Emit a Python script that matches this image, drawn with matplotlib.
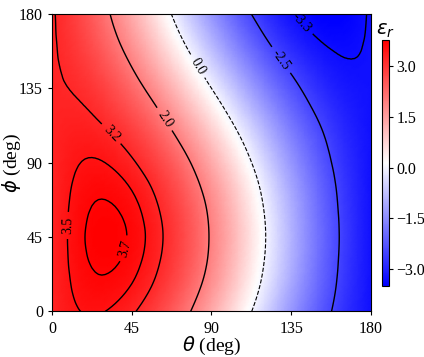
import numpy as np
import matplotlib.pyplot as plt
import matplotlib.tri as mtri

plt.rcParams['font.family'] = 'serif'
plt.rcParams['font.serif'] = ['Liberation Serif', 'DejaVu Serif']

# grid (deg)
theta = [0, 15, 30, 45, 60, 75, 90, 105, 120, 135, 150, 165, 180]
phi = [0, 15, 30, 45, 60, 75, 90, 105, 120, 135, 150, 165, 180]

# eps_r, one row per phi value, columns follow theta
eps_r = [
    [3.25, 3.49, 3.50, 3.26, 2.80, 2.16, 1.36, 0.47, -0.45, -1.34, -2.14, -2.79, -3.25],
    [3.25, 3.57, 3.65, 3.48, 3.07, 2.45, 1.67, 0.77, -0.18, -1.12, -1.98, -2.71, -3.25],
    [3.25, 3.62, 3.74, 3.61, 3.23, 2.64, 1.86, 0.95, -0.02, -0.98, -1.89, -2.66, -3.25],
    [3.25, 3.64, 3.78, 3.66, 3.29, 2.70, 1.92, 1.02, 0.04, -0.94, -1.85, -2.64, -3.25],
    [3.25, 3.62, 3.74, 3.61, 3.23, 2.64, 1.86, 0.95, -0.02, -0.98, -1.89, -2.66, -3.25],
    [3.25, 3.57, 3.65, 3.48, 3.07, 2.45, 1.67, 0.77, -0.18, -1.12, -1.98, -2.71, -3.25],
    [3.25, 3.49, 3.50, 3.26, 2.80, 2.16, 1.36, 0.47, -0.45, -1.34, -2.14, -2.79, -3.25],
    [3.25, 3.39, 3.30, 2.98, 2.46, 1.77, 0.96, 0.09, -0.79, -1.62, -2.33, -2.89, -3.25],
    [3.25, 3.27, 3.06, 2.65, 2.06, 1.32, 0.50, -0.36, -1.19, -1.95, -2.57, -3.01, -3.25],
    [3.25, 3.14, 2.82, 2.30, 1.63, 0.84, 0.00, -0.84, -1.63, -2.30, -2.82, -3.14, -3.25],
    [3.25, 3.01, 2.57, 1.95, 1.19, 0.36, -0.50, -1.32, -2.06, -2.65, -3.06, -3.27, -3.25],
    [3.25, 2.89, 2.33, 1.62, 0.79, -0.09, -0.96, -1.77, -2.46, -2.98, -3.30, -3.39, -3.25],
    [3.25, 2.79, 2.14, 1.34, 0.45, -0.47, -1.36, -2.16, -2.80, -3.26, -3.50, -3.49, -3.25],
]

levels = [-3.3, -2.5, 0.0, 2.0, 3.2, 3.5, 3.7]
label_pos = [(141, 175), (129, 152), (83, 149), (63, 116), (33, 107), (10, 52), (37, 39)]
cbar_ticks = [-3.0, -1.5, 0.0, 1.5, 3.0]

T, P = np.meshgrid(theta, phi)
Z = np.array(eps_r)

# split every grid cell along the same diagonal
nx, ny = len(theta), len(phi)
cells = []
for j in range(ny - 1):
    for i in range(nx - 1):
        a = j * nx + i
        cells.append([a, a + 1, a + nx + 1])
        cells.append([a, a + nx + 1, a + nx])
tri = mtri.Triangulation(T.ravel(), P.ravel(), cells)
interp = mtri.CubicTriInterpolator(tri, Z.ravel(), kind='min_E')
refiner = mtri.UniformTriRefiner(tri)
tri_f, z_f = refiner.refine_field(Z.ravel(), triinterpolator=interp, subdiv=3)

fig = plt.figure(figsize=(4.24, 3.57), dpi=100)
ax = fig.add_axes([0.1226, 0.1275, 0.7524, 0.8335])
cax = fig.add_axes([0.9002, 0.199, 0.018, 0.689])

pc = ax.tripcolor(tri_f, z_f, cmap='bwr', shading='gouraud',
                  vmin=Z.min(), vmax=Z.max())
styles = ['solid' if l != 0 else 'dashed' for l in levels]
widths = [1.0 if l != 0 else 0.8 for l in levels]
cs = ax.tricontour(tri_f, z_f, levels=levels, colors='k',
                   linestyles=styles, linewidths=widths)
ax.clabel(cs, fmt='%.1f', fontsize=10, inline=True, manual=label_pos)

ax.set_xlim(0, 180)
ax.set_ylim(0, 180)
ax.set_xticks([0, 45, 90, 135, 180])
ax.set_yticks([0, 45, 90, 135, 180])
ax.tick_params(labelsize=11.5, length=3)
ax.set_xlabel(r'$\theta$ (deg)', fontsize=14, labelpad=-1)
ax.set_ylabel(r'$\phi$ (deg)', fontsize=14)
ax.yaxis.set_label_coords(-0.09, 0.5)

cb = fig.colorbar(pc, cax=cax, ticks=cbar_ticks)
cb.ax.tick_params(labelsize=11.5, length=3, pad=2)
cb.outline.set_linewidth(0.8)
cax.set_title(r'$\epsilon_r$', fontsize=14, pad=4)

fig.savefig('out.png', dpi=100)
